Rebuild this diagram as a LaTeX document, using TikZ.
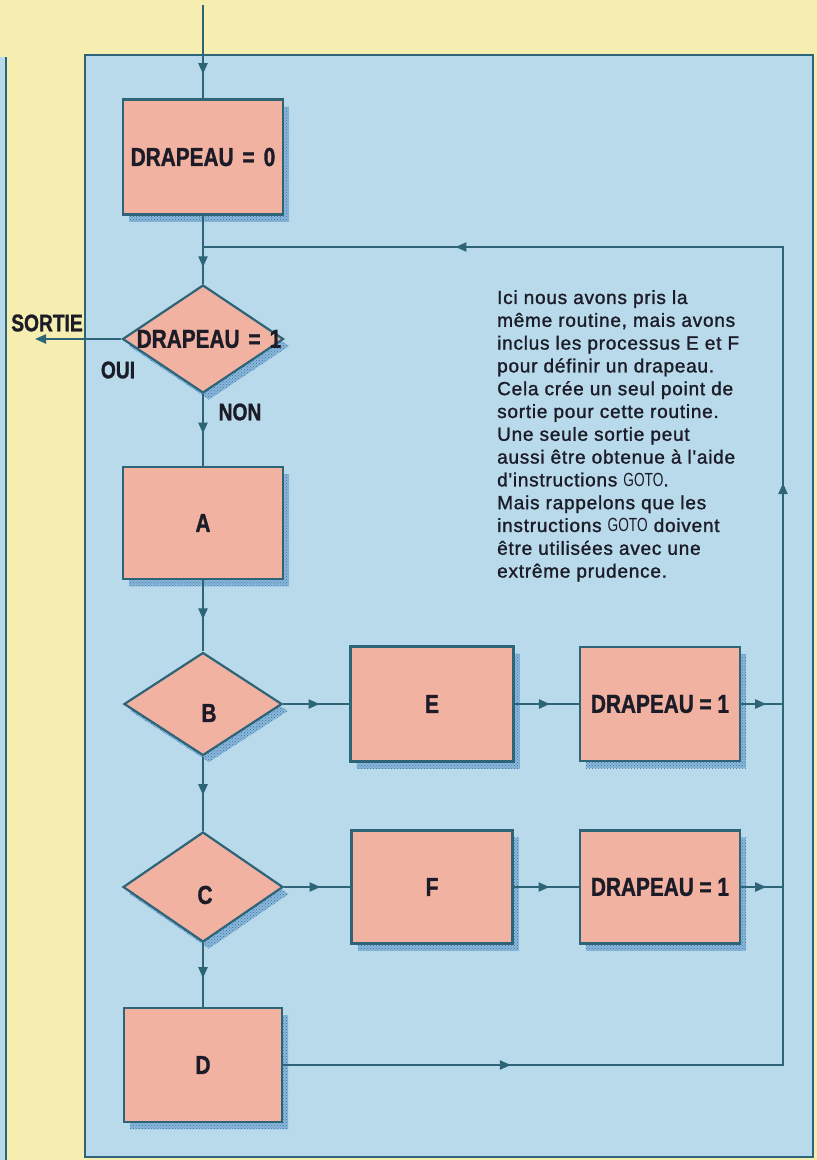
\documentclass[tikz,border=0pt]{standalone}
\usepackage{fontspec}
\usetikzlibrary{shapes.geometric,arrows.meta,decorations.markings,patterns}
\newfontfamily\lblfont[FakeStretch=0.8, BoldFeatures={FakeBold=1.2}]{Liberation Sans}
\newfontfamily\bodyfont[LetterSpace=4,FakeBold=1.3]{Liberation Sans}
\newfontfamily\gotofont[FakeStretch=0.72]{Liberation Sans}
\definecolor{bgyellow}{HTML}{F6EEB0}
\definecolor{panelblue}{HTML}{B8DAEA}
\definecolor{boxpink}{HTML}{F2B2A2}
\definecolor{linec}{HTML}{2E6478}
\definecolor{shadowblue}{HTML}{4F8FC8}
\definecolor{txt}{HTML}{1C1C28}
\tikzset{
  mytip/.tip={Triangle[length=11pt,width=9pt]},
  conn/.style={draw=linec, line width=2.2pt},
  midarrow/.style={postaction={decorate}, decoration={markings, mark=at position #1 with {\arrow[linec]{mytip}}}},
  shadowed/.style={
    preaction={fill=shadowblue!45!panelblue, transform canvas={xshift=6pt,yshift=-7pt}},
    preaction={pattern=crosshatch dots, pattern color=shadowblue!80!black, transform canvas={xshift=6pt,yshift=-7pt}}},
  boxn/.style={rectangle, draw=linec, line width=2.2pt, fill=boxpink, inner sep=0pt, text=txt,
    font=\lblfont\bfseries\fontsize{26}{26}\selectfont, shadowed},
  dian/.style={diamond, draw=linec, line width=2.2pt, fill=boxpink, inner sep=0pt, shadowed},
  lbl/.style={inner sep=0pt, text=txt, font=\lblfont\bfseries\fontsize{26}{26}\selectfont},
  small/.style={inner sep=0pt, text=txt, font=\lblfont\bfseries\fontsize{24}{24}\selectfont},
}
\begin{document}
\begin{tikzpicture}[x=1pt,y=-1pt]
\useasboundingbox (0,0) rectangle (817,1160);
% backgrounds
\fill[bgyellow] (0,0) rectangle (817,1160);
\fill[panelblue] (-10,57) rectangle (6,1170);
\draw[linec, line width=2.2pt] (6,57) -- (6,1170);
\draw[linec, line width=2.2pt, fill=panelblue] (85,55) rectangle (813,1157);

% nodes
\node[boxn, minimum width=160pt, minimum height=115pt] (d0) at (203,157) {DRAPEAU\hspace{9pt}=\hspace{9pt}0};
\coordinate (start) at (203,5);
\coordinate (j) at (203,247);
\node[dian, minimum width=161pt, minimum height=108pt] (q1) at (203,339) {};
\node[lbl] (q1t) at (209,339) {DRAPEAU\hspace{9pt}=\hspace{9pt}1};
\node[boxn, minimum width=160pt, minimum height=112pt] (a) at (203,523) {A};
\node[dian, minimum width=158pt, minimum height=103pt] (b) at (203,704) {};
\node[lbl] (bt) at (209,713) {B};
\node[dian, minimum width=160pt, minimum height=110pt] (c) at (203,887) {};
\node[lbl] (ct) at (205,895) {C};
\node[boxn, minimum width=158pt, minimum height=114pt] (d) at (203,1065) {D};
\node[boxn, minimum width=163pt, minimum height=115pt] (e) at (432,704) {E};
\node[boxn, minimum width=160pt, minimum height=114pt] (f1) at (660,704) {\fontsize{26}{26}\selectfont DRAPEAU = 1};
\node[boxn, minimum width=161pt, minimum height=113pt] (f) at (432,887) {F};
\node[boxn, minimum width=160pt, minimum height=113pt] (f2) at (660,887) {\fontsize{26}{26}\selectfont DRAPEAU = 1};
\coordinate (rtop) at (783,247);
\coordinate (sortie) at (35,339);

\node[small] (sortiet) at (47,323) {SORTIE};
\node[small] (oui) at (118,370) {OUI};
\node[small] (non) at (240,412) {NON};

% connectors
\draw[conn, midarrow=0.74] (start) -- (d0.north);
\draw[conn] (d0.south) -- (j);
\draw[conn, midarrow=0.55] (j) -- (q1.north);
\draw[conn, -{mytip}] (q1.west) -- (sortie);
\draw[conn, midarrow=0.55] (q1.south) -- (a.north);
\draw[conn, midarrow=0.55] (a.south) -- (b.north);
\draw[conn, midarrow=0.52] (b.south) -- (c.north);
\draw[conn, midarrow=0.55] (c.south) -- (d.north);
\draw[conn, midarrow=0.55] (b.east) -- (e.west);
\draw[conn, midarrow=0.55] (e.east) -- (f1.west);
\draw[conn, midarrow=0.6] (f1.east) -- (f1.east -| rtop);
\draw[conn, midarrow=0.55] (c.east) -- (f.west);
\draw[conn, midarrow=0.55] (f.east) -- (f2.west);
\draw[conn, midarrow=0.6] (f2.east) -- (f2.east -| rtop);
\draw[conn, line join=miter, postaction={decorate}, decoration={markings,
    mark=at position 0.12 with {\arrow[linec]{mytip}},
    mark=at position 0.57 with {\arrow[linec]{mytip}},
    mark=at position 0.867 with {\arrow[linec]{mytip}}}]
  (d.east) -- (d.east -| rtop) -- (rtop) -- (j);

% explanatory text
\node[anchor=north west, align=left, inner sep=0pt, text=txt,
      font=\bodyfont\fontsize{19}{22.8}\selectfont] (note) at (497,290) {%
Ici nous avons pris la\\
même routine, mais avons\\
inclus les processus E et F\\
pour définir un drapeau.\\
Cela crée un seul point de\\
sortie pour cette routine.\\
Une seule sortie peut\\
aussi être obtenue à l'aide\\
d'instructions {\gotofont GOTO}.\\
Mais rappelons que les\\
instructions {\gotofont GOTO} doivent\\
être utilisées avec une\\
extrême prudence.};
\end{tikzpicture}
\end{document}
